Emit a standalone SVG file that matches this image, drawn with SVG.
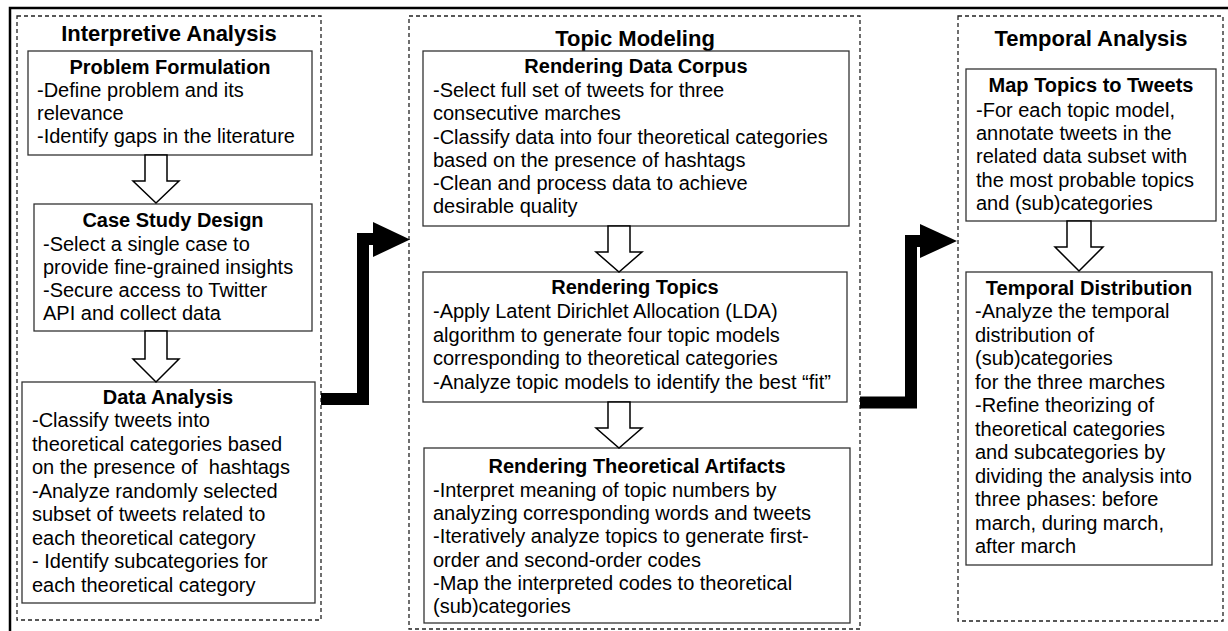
<svg xmlns="http://www.w3.org/2000/svg" width="1228" height="631" viewBox="0 0 1228 631">
<style>
.frame{fill:none;stroke:#000;stroke-width:2.5}
.grp{fill:none;stroke:#222;stroke-width:1.3;stroke-dasharray:4 3}
.box{fill:#fff;stroke:#333;stroke-width:1.3}
.gt{font-family:"Liberation Sans",Arial,sans-serif;font-size:22px;font-weight:bold;fill:#000;text-anchor:middle}
.bt{font-family:"Liberation Sans",Arial,sans-serif;font-size:20px;font-weight:bold;fill:#000;text-anchor:middle}
.tx{font-family:"Liberation Sans",Arial,sans-serif;font-size:20px;fill:#000}
.hol{fill:#fff;stroke:#000;stroke-width:1.5;stroke-linejoin:miter}
.big{fill:none;stroke:#000;stroke-width:12;stroke-linejoin:miter}
.head{fill:#000;stroke:none}
</style>
<rect width="1228" height="631" fill="#fff"/>
<path class="frame" d="M1228,8 H10 V631"/>

<g id="interpretive-analysis">
<rect class="grp" x="17" y="16" width="304" height="604"/>
<text class="gt" x="169" y="41">Interpretive Analysis</text>
</g>
<g id="problem-formulation">
<rect class="box" x="28" y="51" width="284" height="104"/>
<text class="bt" x="170" y="74">Problem Formulation</text>
<text class="tx" x="37" y="97">-Define problem and its</text>
<text class="tx" x="37" y="120">relevance</text>
<text class="tx" x="37" y="143">-Identify gaps in the literature</text>
</g>
<g id="case-study-design">
<rect class="box" x="34" y="204" width="278" height="127"/>
<text class="bt" x="173" y="227">Case Study Design</text>
<text class="tx" x="43" y="251">-Select a single case to</text>
<text class="tx" x="43" y="274">provide fine-grained insights</text>
<text class="tx" x="43" y="297">-Secure access to Twitter</text>
<text class="tx" x="43" y="320">API and collect data</text>
</g>
<g id="data-analysis">
<rect class="box" x="22" y="382" width="293" height="221"/>
<text class="bt" x="168" y="404">Data Analysis</text>
<text class="tx" x="32" y="427">-Classify tweets into</text>
<text class="tx" x="32" y="450.5">theoretical categories based</text>
<text class="tx" x="32" y="474" xml:space="preserve">on the presence of  hashtags</text>
<text class="tx" x="32" y="497.5">-Analyze randomly selected</text>
<text class="tx" x="32" y="521">subset of tweets related to</text>
<text class="tx" x="32" y="544.5">each theoretical category</text>
<text class="tx" x="32" y="568">- Identify subcategories for</text>
<text class="tx" x="32" y="591.5">each theoretical category</text>
</g>

<g id="topic-modeling">
<rect class="grp" x="409" y="16" width="451" height="613"/>
<text class="gt" x="635" y="46">Topic Modeling</text>
</g>
<g id="rendering-data-corpus">
<rect class="box" x="423" y="51" width="426" height="175"/>
<text class="bt" x="636" y="73">Rendering Data Corpus</text>
<text class="tx" x="433" y="97">-Select full set of tweets for three</text>
<text class="tx" x="433" y="120">consecutive marches</text>
<text class="tx" x="433" y="144">-Classify data into four theoretical categories</text>
<text class="tx" x="433" y="167">based on the presence of hashtags</text>
<text class="tx" x="433" y="190">-Clean and process data to achieve</text>
<text class="tx" x="433" y="213">desirable quality</text>
</g>
<g id="rendering-topics">
<rect class="box" x="423" y="272" width="424" height="130"/>
<text class="bt" x="635" y="294">Rendering Topics</text>
<text class="tx" x="433" y="318">-Apply Latent Dirichlet Allocation (LDA)</text>
<text class="tx" x="433" y="342">algorithm to generate four topic models</text>
<text class="tx" x="433" y="365">corresponding to theoretical categories</text>
<text class="tx" x="433" y="389">-Analyze topic models to identify the best “fit”</text>
</g>
<g id="rendering-theoretical-artifacts">
<rect class="box" x="424" y="448" width="426" height="175"/>
<text class="bt" x="637" y="473">Rendering Theoretical Artifacts</text>
<text class="tx" x="433" y="497">-Interpret meaning of topic numbers by</text>
<text class="tx" x="433" y="520">analyzing corresponding words and tweets</text>
<text class="tx" x="433" y="543">-Iteratively analyze topics to generate first-</text>
<text class="tx" x="433" y="567">order and second-order codes</text>
<text class="tx" x="433" y="590">-Map the interpreted codes to theoretical</text>
<text class="tx" x="433" y="613">(sub)categories</text>
</g>

<g id="temporal-analysis">
<rect class="grp" x="958" y="16" width="265" height="605"/>
<text class="gt" x="1091" y="46">Temporal Analysis</text>
</g>
<g id="map-topics-to-tweets">
<rect class="box" x="966" y="69" width="250" height="152"/>
<text class="bt" x="1091" y="92">Map Topics to Tweets</text>
<text class="tx" x="976" y="117">-For each topic model,</text>
<text class="tx" x="976" y="140">annotate tweets in the</text>
<text class="tx" x="976" y="163">related data subset with</text>
<text class="tx" x="976" y="187">the most probable topics</text>
<text class="tx" x="976" y="210">and (sub)categories</text>
</g>
<g id="temporal-distribution">
<rect class="box" x="966" y="272" width="246" height="293"/>
<text class="bt" x="1089" y="295">Temporal Distribution</text>
<text class="tx" x="975" y="318">-Analyze the temporal</text>
<text class="tx" x="975" y="341.5">distribution of</text>
<text class="tx" x="975" y="365">(sub)categories</text>
<text class="tx" x="975" y="388.5">for the three marches</text>
<text class="tx" x="975" y="412">-Refine theorizing of</text>
<text class="tx" x="975" y="435.5">theoretical categories</text>
<text class="tx" x="975" y="459">and subcategories by</text>
<text class="tx" x="975" y="482.5">dividing the analysis into</text>
<text class="tx" x="975" y="506">three phases: before</text>
<text class="tx" x="975" y="529.5">march, during march,</text>
<text class="tx" x="975" y="553">after march</text>
</g>

<g id="connectors">
<path class="hol" d="M145,155 V181 H133 L156,203 L179,181 H167 V155 Z"/>
<path class="hol" d="M145,331 V359 H133 L156,382 L179,359 H167 V331 Z"/>
<path class="hol" d="M608,226 V252 H596 L619,272 L642,252 H630 V226 Z"/>
<path class="hol" d="M608,402 V428 H596 L619,448 L642,428 H630 V402 Z"/>
<path class="hol" d="M1067,221 V247 H1055 L1079,271 L1103,247 H1091 V221 Z"/>
<path class="big" d="M321,399 H363 V239 H375"/>
<polygon class="head" points="373,222 410,239.5 373,257"/>
<path class="big" d="M860,402.5 H911 V241 H922"/>
<polygon class="head" points="920,224 957,241 920,258"/>
</g>
</svg>
